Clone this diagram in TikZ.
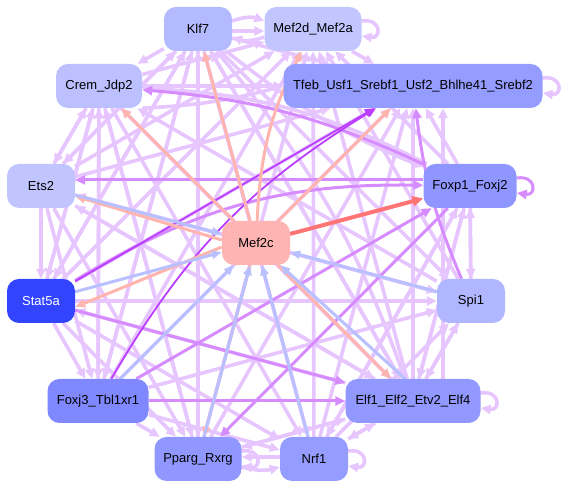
\documentclass[tikz,border=0pt]{standalone}
\usepackage{fontspec}
\setmainfont{Liberation Sans}
\usetikzlibrary{arrows.meta,backgrounds}
\definecolor{lpc}{HTML}{E7C6FF}
\definecolor{mpc}{HTML}{D68CFF}
\definecolor{dpc}{HTML}{BB3DFF}
\definecolor{slc}{HTML}{FFB5AE}
\definecolor{rdc}{HTML}{FF7575}
\definecolor{blc}{HTML}{B9C0FF}
\definecolor{cK}{HTML}{B4BAFF}
\definecolor{cMD}{HTML}{C2C6FF}
\definecolor{cT}{HTML}{959CFF}
\definecolor{cC}{HTML}{BCC0FF}
\definecolor{cE}{HTML}{C0C4FF}
\definecolor{cF}{HTML}{8F96FF}
\definecolor{cM}{HTML}{FFB4B4}
\definecolor{cS}{HTML}{3344FF}
\definecolor{cSp}{HTML}{B0B6FF}
\definecolor{cFJ}{HTML}{8088FF}
\definecolor{cEL}{HTML}{9198FF}
\definecolor{cP}{HTML}{9098FF}
\definecolor{cN}{HTML}{959CFF}
\begin{document}
\begin{tikzpicture}[x=1pt,y=1pt,
  nd/.style={rounded corners=12pt, minimum height=44pt, inner sep=0pt, font=\fontsize{13}{15}\selectfont},
  le/.style={draw=lpc, line width=3.6pt, -{Triangle[length=10pt,width=9pt]}},
  me/.style={draw=mpc, line width=3pt, -{Triangle[length=10pt,width=9pt]}},
  de/.style={draw=dpc, line width=1.8pt, -{Triangle[length=10pt,width=8pt]}},
  se/.style={draw=slc, line width=3pt, -{Triangle[length=10pt,width=8pt]}},
  re/.style={draw=rdc, line width=4pt, -{Triangle[length=11pt,width=10pt]}},
  be/.style={draw=blc, line width=3pt, -{Triangle[length=10pt,width=8pt]}},
  selfloop/.style={to path={([yshift=8pt]\tikztostart.east) .. controls +(20pt,3pt) and +(20pt,-3pt) .. ([yshift=-7pt]\tikztostart.east)}}
]
\useasboundingbox (0,0) rectangle (574,489);
\node[nd, fill=cK, minimum width=68pt] (k) at (198,460) {Klf7};
\node[nd, fill=cMD, minimum width=97pt] (md) at (313,460) {Mef2d\_Mef2a};
\node[nd, fill=cT, minimum width=259pt] (t) at (413,403) {Tfeb\_Usf1\_Srebf1\_Usf2\_Bhlhe41\_Srebf2};
\node[nd, fill=cC, minimum width=86pt] (c) at (99,403) {Crem\_Jdp2};
\node[nd, fill=cE, minimum width=68pt] (e) at (41,303) {Ets2};
\node[nd, fill=cF, minimum width=93pt] (f) at (470,303) {Foxp1\_Foxj2};
\node[nd, fill=cM, minimum width=68pt] (m) at (256,246) {Mef2c};
\node[nd, fill=cS, minimum width=68pt, text=white] (s) at (41,188) {Stat5a};
\node[nd, fill=cSp, minimum width=68pt] (sp) at (471,188) {Spi1};
\node[nd, fill=cFJ, minimum width=101pt] (fj) at (98,88) {Foxj3\_Tbl1xr1};
\node[nd, fill=cEL, minimum width=135pt] (el) at (413,88) {Elf1\_Elf2\_Etv2\_Elf4};
\node[nd, fill=cP, minimum width=87pt] (p) at (198,30) {Pparg\_Rxrg};
\node[nd, fill=cN, minimum width=68pt] (n) at (314,30) {Nrf1};

\begin{scope}[on background layer]
% light edges
\draw[le] ([yshift=8pt]k.east) to[bend left=20] ([yshift=8pt]md.west);
\draw[le] ([yshift=-8pt]md.west) to[bend left=20] ([yshift=-8pt]k.east);
\draw[le] ([yshift=-2pt]k.east) -- ([yshift=-2pt]md.west);
\draw[le] (k) -- (c);
\draw[le] (k) -- (e);
\draw[le] (k) -- (s);
\draw[le] (k) -- (fj);
\draw[le] (k) -- (p);
\draw[le] (k) -- (n);
\draw[le] (k) -- (el);
\draw[le] (k) -- (sp);
\draw[le] (k) to[bend right=8] (f);
\draw[le] (k) -- (t);
\draw[le] (md) -- (t);
\draw[le] (c) -- (md);
\draw[le] (c) -- (t);
\draw[le] (c.south east) to[bend right=6] (t.west);
\draw[le] (c) -- (e);
\draw[le] (c) -- (s);
\draw[le] (c) -- (fj);
\draw[le] (c) -- (p);
\draw[le] (c) -- (n);
\draw[le] (c) -- (el);
\draw[le] (e) -- (c);
\draw[le] (e) -- (k);
\draw[le] (e) -- (md);
\draw[le] (e) -- (t);
\draw[le] (e) -- (fj);
\draw[le] (e) -- (s);
\draw[le] (e) -- (p);
\draw[le] (e) -- (el);
\draw[le] (e) -- (sp);
\draw[le] (s) -- (k);
\draw[le] (s) -- (md);
\draw[le] (s) -- (c);
\draw[le] (s) -- (t);
\draw[le] (s) -- (fj);
\draw[le] (s) -- (p);
\draw[le] (s) -- (n);
\draw[le] (s) -- (sp);
\draw[le] (fj) -- (k);
\draw[le] (fj) -- (md);
\draw[le] (fj) -- (c);
\draw[le] (fj) -- (t);
\draw[le] (fj) -- (p);
\draw[le] (fj) -- (n);
\draw[le] (fj) -- (sp);
\draw[le] (p) -- (k);
\draw[le] (p) -- (md);
\draw[le] (p) -- (c);
\draw[le] (p) -- (t);
\draw[le] ([yshift=-8pt]p.east) to[bend right=15] ([yshift=-8pt]n.west);
\draw[le] ([yshift=2pt]n.west) -- ([yshift=2pt]p.east);
\draw[le] (p) -- (el);
\draw[le] (n) -- (k);
\draw[le] (n) -- (md);
\draw[le] (n) -- (t);
\draw[le] (n) -- (el);
\draw[le] (n) -- (f);
\draw[le] (n) -- (sp);
\draw[le] (el) -- (k);
\draw[le] (el) -- (md);
\draw[le] (el) -- (t);
\draw[le] ([xshift=30pt]el.north) -- ([xshift=30pt]t.south);
\draw[le] (el) -- (c);
\draw[le] (el) -- (e);
\draw[le] (el) -- (s);
\draw[le] (el) -- (n);
\draw[le] (el) -- (p);
\draw[le] (el) -- (sp);
\draw[le] (el) -- (f);
\draw[le] (sp) -- (f);
\draw[le] (f) -- (sp);
\draw[le] (sp) -- (el);
\draw[le] (sp) -- (e);
\draw[le] (sp) -- (md);
\draw[le] (sp) -- (c);
\draw[le] (f) -- (t);
\draw[le] (f) -- (el);
\draw[le] (f) -- (n);
\draw[le] (f) -- (md);
\draw[le] (f) to[bend right=12] (c);
\draw[le] (k) to[bend left=10] (el);
% self loops
\draw[le] (md) to[selfloop] (md);
\draw[le] (t) to[selfloop] (t);
\draw[le] (el) to[selfloop] (el);
\draw[le] (n) to[selfloop] (n);
\draw[le] (p) to[selfloop] (p);
% medium edges
\draw[me] ([yshift=6pt]f.west) -- ([yshift=6pt]e.east);
\draw[me] (f) to[bend right=10] (c);
\draw[me] (s) to[bend left=16] (f);
\draw[me] (sp) to[bend left=8] (t);
\draw[me] (f) -- (p);
\draw[me] (s) -- (el);
\draw[me] (fj) -- (el);
\draw[me] (fj) -- (f);
\draw[me] (f) to[selfloop] (f);
% dark edges
\draw[de] (s) -- (t);
\draw[de] (fj) to[bend left=14] (t);
% Mef2c out
\draw[se] (m) -- (k);
\draw[se] (m) -- (c);
\draw[se] (m) to[bend left=12] (md);
\draw[se] (m) -- (t);
\draw[se] ([yshift=-4pt]m.west) -- ([yshift=-6pt]s.east);
\draw[se] ([yshift=3pt]m.west) -- (e);
\draw[se] (m) -- (p);
\draw[se] (m) -- (el);
\draw[re] (m) -- (f);
% into Mef2c
\draw[be] (e) -- (m);
\draw[be] (s) -- (m);
\draw[be] (fj) -- (m);
\draw[be] ([xshift=6pt]p.north) -- (m);
\draw[be] (n) -- (m);
\draw[be] ([xshift=-8pt]el.north) -- (m);
\draw[be] (sp) -- (m);
\end{scope}
\end{tikzpicture}
\end{document}
